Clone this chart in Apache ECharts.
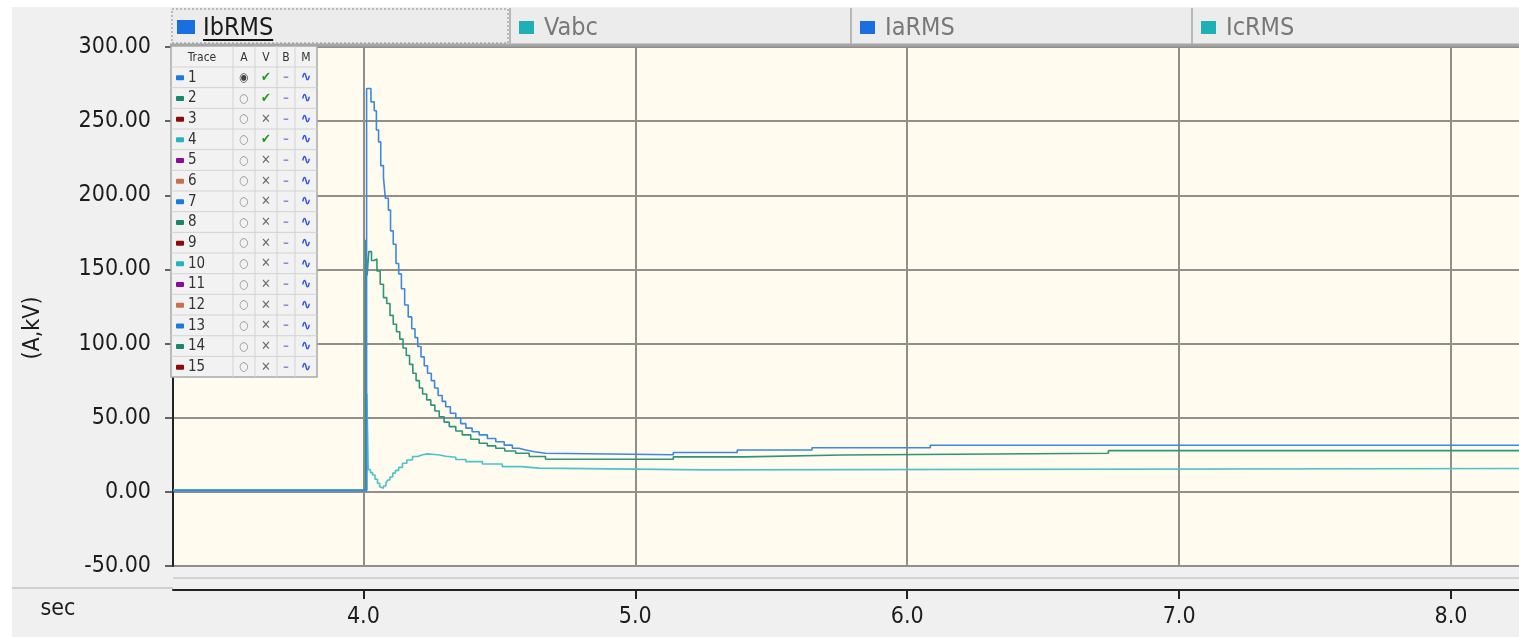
<!DOCTYPE html>
<html>
<head>
<meta charset="utf-8">
<title>RMS traces</title>
<script src="https://cdn.jsdelivr.net/npm/echarts@6/dist/echarts.min.js"></script>
<style>
  html, body { margin: 0; padding: 0; background: #ffffff; }
  #chart { width: 1519px; height: 637px; }
</style>
</head>
<body>
<div id="chart"></div>
<script>
// ---- data -------------------------------------------------------------
const tabNames = ['IbRMS', 'Vabc', 'IaRMS', 'IcRMS'];
const tabColors = ['#1a6fe0', '#1fb0b5', '#1a6fe0', '#1fb0b5'];
const activeTab = 0;

const xTickValues = [4.0, 5.0, 6.0, 7.0, 8.0];
const yMin = -50, yMax = 300, yStep = 50;

const traceIds = [1, 2, 3, 4, 5, 6, 7, 8, 9, 10, 11, 12, 13, 14, 15];
const tracePalette = ['#1a78e0', '#17866b', '#8b0a0a', '#22b5bd', '#8a0a9a', '#c8704e'];
const visibleTraces = [1, 2, 4];
const activeTrace = 1;

// [time (sec), value (A,kV)]
const trace1 = [
  [3.30, 1.0], [4.012, 272], [4.028, 263], [4.040, 257], [4.048, 244], [4.056, 236],
  [4.064, 220], [4.074, 212], [4.081, 198], [4.092, 190], [4.100, 176], [4.110, 167],
  [4.120, 154], [4.130, 147], [4.140, 137], [4.152, 126], [4.165, 118], [4.178, 110],
  [4.190, 104], [4.200, 98], [4.212, 91], [4.224, 85], [4.236, 80], [4.250, 75],
  [4.262, 70], [4.275, 65], [4.290, 61], [4.303, 57.4], [4.320, 53], [4.340, 49.6],
  [4.358, 46], [4.377, 43], [4.400, 40.5], [4.426, 38.4], [4.456, 36], [4.487, 33.8],
  [4.518, 31.5], [4.548, 29.4], [4.572, 28.2], [4.597, 27.1], [4.630, 26], [4.670, 25],
  [5.140, 26.5], [5.375, 28.2], [5.650, 29.7], [6.085, 31.4], [8.25, 31.4]
];
const trace2 = [
  [3.30, 1.0], [4.008, 170], [4.014, 146], [4.020, 162], [4.030, 156], [4.040, 157],
  [4.050, 149], [4.062, 140], [4.074, 131], [4.086, 127], [4.098, 119], [4.110, 113],
  [4.122, 108], [4.134, 103], [4.146, 97], [4.158, 92], [4.170, 86], [4.182, 80],
  [4.194, 75], [4.206, 70], [4.218, 66], [4.233, 62], [4.248, 58.5], [4.263, 54.5],
  [4.279, 50.7], [4.297, 47], [4.316, 44], [4.340, 41], [4.364, 38.4], [4.395, 35.5],
  [4.426, 32.8], [4.456, 31], [4.487, 29.4], [4.520, 27.6], [4.560, 26], [4.610, 23.8],
  [4.670, 22], [5.140, 23.6], [5.405, 24.9], [5.760, 26], [6.740, 27.8], [8.25, 27.8]
];
const trace4 = [
  [3.30, 1.0], [4.013, 66], [4.018, 15], [4.026, 13], [4.034, 11.4], [4.043, 8.5],
  [4.052, 5.8], [4.060, 3.5], [4.066, 2.5], [4.074, 4], [4.083, 5.8], [4.090, 8],
  [4.098, 10], [4.108, 12.6], [4.118, 14.5], [4.130, 16.5], [4.144, 19.3], [4.160, 21.5],
  [4.181, 23.8], [4.200, 25], [4.218, 25.6], [4.236, 25.4], [4.254, 24.9], [4.280, 24],
  [4.303, 23.3], [4.340, 21.8], [4.377, 20.4], [4.438, 18.8], [4.511, 17], [4.580, 16],
  [4.646, 14.8], [5.258, 15.8], [8.25, 15.8]
];

// ---- layout / style ---------------------------------------------------
const FONT = '"DejaVu Sans Condensed", "DejaVu Sans", "Liberation Sans", sans-serif';
const GRID_LEFT = 173, GRID_TOP = 47, GRID_BOTTOM_Y = 566, W = 1519, H = 637;
const gridColor = '#928e8a';
const inkColor = '#1c1c1c';

function textWidth(str, font) {
  const ctx = document.createElement('canvas').getContext('2d');
  ctx.font = font;
  return ctx.measureText(str).width;
}

const chart = echarts.init(document.getElementById('chart'), null, { renderer: 'canvas' });

const graphics = [];

// white page margins around the grey panel
graphics.push({ type: 'rect', z: -5, silent: true, shape: { x: 0, y: 0, width: W, height: 7 }, style: { fill: '#ffffff' } });
graphics.push({ type: 'rect', z: -5, silent: true, shape: { x: 0, y: 0, width: 12, height: H }, style: { fill: '#ffffff' } });

// separators between plot and time axis
graphics.push({ type: 'line', z: 1, silent: true, shape: { x1: GRID_LEFT, y1: 578, x2: W, y2: 578 }, style: { stroke: '#d4d4d4', lineWidth: 2 } });
graphics.push({ type: 'line', z: 1, silent: true, shape: { x1: 12, y1: 588, x2: GRID_LEFT, y2: 588 }, style: { stroke: '#c4c4c4', lineWidth: 1.5 } });

// time axis unit
graphics.push({
  type: 'text', z: 10, silent: true, x: 58, y: 609,
  style: { text: 'sec', font: '23px ' + FONT, fill: inkColor, align: 'center', verticalAlign: 'middle' }
});

// tab strip
const tabX = [170, 511, 852, 1193, W];
graphics.push({ type: 'rect', z: 5, silent: true, shape: { x: 170, y: 8, width: W - 170, height: 36 }, style: { fill: '#ececec' } });
graphics.push({ type: 'line', z: 6, silent: true, shape: { x1: 170, y1: 45, x2: W, y2: 45 }, style: { stroke: '#a6a6a6', lineWidth: 3 } });
const tabFont = '25px ' + FONT;
tabNames.forEach((name, i) => {
  const x0 = tabX[i], x1 = tabX[i + 1];
  if (i < tabNames.length - 1) {
    graphics.push({ type: 'line', z: 6, silent: true, shape: { x1: x1 - 1, y1: 8, x2: x1 - 1, y2: 44 }, style: { stroke: '#b8b8b8', lineWidth: 2 } });
  }
  const active = i === activeTab;
  graphics.push({
    type: 'rect', z: 7, silent: true,
    shape: active ? { x: x0 + 7, y: 20, width: 18, height: 14 } : { x: x0 + 8, y: 21, width: 15, height: 13 },
    style: { fill: tabColors[i] }
  });
  graphics.push({
    type: 'text', z: 7, silent: true, x: x0 + 33, y: 28,
    style: { text: name, font: tabFont, fill: active ? '#1a1a1a' : '#787878', align: 'left', verticalAlign: 'middle' }
  });
  if (active) {
    const tw = textWidth(name, tabFont);
    graphics.push({ type: 'line', z: 7, silent: true, shape: { x1: x0 + 33, y1: 40, x2: x0 + 33 + tw, y2: 40 }, style: { stroke: '#111', lineWidth: 2 } });
    graphics.push({ type: 'rect', z: 7, silent: true, shape: { x: x0 + 2, y: 9, width: x1 - x0 - 5, height: 34 }, style: { fill: 'none', stroke: '#8a8a8a', lineWidth: 1, lineDash: [2, 2] } });
  }
});

// y axis title
graphics.push({
  type: 'text', z: 10, silent: true, x: 33, y: 328, rotation: Math.PI / 2,
  style: { text: '(A,kV)', font: '23px ' + FONT, fill: inkColor, align: 'center', verticalAlign: 'middle' }
});

// trace table
const tblX = 171, tblY = 46, headH = 21, rowH = 20.67;
const colX = [171, 233, 255, 277, 295, 317];
const tblH = headH + rowH * traceIds.length;
graphics.push({ type: 'rect', z: 100, silent: true, shape: { x: tblX, y: tblY, width: colX[5] - tblX, height: tblH }, style: { fill: '#f2f2f2', stroke: '#a9a9a9', lineWidth: 1.5 } });
for (let c = 1; c < colX.length - 1; c++) {
  graphics.push({ type: 'line', z: 101, silent: true, shape: { x1: colX[c], y1: tblY, x2: colX[c], y2: tblY + tblH }, style: { stroke: '#d2d2d2', lineWidth: 1 } });
}
for (let r = 0; r < traceIds.length; r++) {
  const y = tblY + headH + r * rowH;
  graphics.push({ type: 'line', z: 101, silent: true, shape: { x1: tblX, y1: y, x2: colX[5], y2: y }, style: { stroke: '#d2d2d2', lineWidth: 1 } });
}
const headers = ['Trace', 'A', 'V', 'B', 'M'];
headers.forEach((h, c) => {
  graphics.push({
    type: 'text', z: 102, silent: true, x: (colX[c] + colX[c + 1]) / 2, y: tblY + headH / 2 + 1,
    style: { text: h, font: '12px ' + FONT, fill: '#333', align: 'center', verticalAlign: 'middle' }
  });
});
traceIds.forEach((id, r) => {
  const cy = tblY + headH + r * rowH + rowH / 2 + 0.5;
  const color = tracePalette[r % tracePalette.length];
  const shown = visibleTraces.indexOf(id) >= 0;
  graphics.push({ type: 'rect', z: 102, silent: true, shape: { x: 176, y: cy - 2.5, width: 8, height: 5, r: 1 }, style: { fill: color } });
  graphics.push({ type: 'text', z: 102, silent: true, x: 188, y: cy, style: { text: String(id), font: '15px ' + FONT, fill: '#333', align: 'left', verticalAlign: 'middle' } });
  graphics.push({ type: 'text', z: 102, silent: true, x: (colX[1] + colX[2]) / 2, y: cy, style: { text: id === activeTrace ? '◉' : '○', font: '12px ' + FONT, fill: id === activeTrace ? '#444' : '#8a8a8a', align: 'center', verticalAlign: 'middle' } });
  graphics.push({ type: 'text', z: 102, silent: true, x: (colX[2] + colX[3]) / 2, y: cy, style: { text: shown ? '✔' : '✕', font: (shown ? 'bold 13px ' : '13px ') + FONT, fill: shown ? '#1f9a1f' : '#6e6e6e', align: 'center', verticalAlign: 'middle' } });
  graphics.push({ type: 'text', z: 102, silent: true, x: (colX[3] + colX[4]) / 2, y: cy, style: { text: '–', font: 'bold 13px ' + FONT, fill: '#8c8cd6', align: 'center', verticalAlign: 'middle' } });
  graphics.push({ type: 'text', z: 102, silent: true, x: (colX[4] + colX[5]) / 2, y: cy, style: { text: '∿', font: 'bold 14px ' + FONT, fill: '#3050e8', align: 'center', verticalAlign: 'middle' } });
});

function lineSeries(name, data, color) {
  return {
    name: name,
    type: 'line',
    data: data,
    step: 'end',
    showSymbol: false,
    symbol: 'none',
    animation: false,
    clip: true,
    lineStyle: { color: color, width: 1.6 },
    emphasis: { disabled: true }
  };
}

const option = {
  backgroundColor: '#f0f0f0',
  animation: false,
  textStyle: { fontFamily: FONT },
  grid: {
    left: GRID_LEFT, right: -4, top: GRID_TOP, bottom: H - GRID_BOTTOM_Y,
    show: true, backgroundColor: '#fffbef', borderWidth: 0
  },
  xAxis: {
    type: 'value',
    min: 3.30, max: 8.25,
    splitNumber: 5,
    offset: 24,
    axisLine: { show: true, onZero: false, lineStyle: { color: '#222', width: 2 } },
    axisTick: { show: true, length: 9, customValues: xTickValues, lineStyle: { color: '#222', width: 2 } },
    axisLabel: {
      customValues: xTickValues,
      margin: 16, fontSize: 23, color: inkColor, fontFamily: FONT,
      formatter: v => v.toFixed(1)
    },
    splitLine: { show: true, lineStyle: { color: gridColor, width: 2 } }
  },
  yAxis: {
    type: 'value',
    min: yMin, max: yMax, interval: yStep,
    axisLine: { show: true, onZero: false, lineStyle: { color: '#222', width: 2 } },
    axisTick: { show: true, length: 8, lineStyle: { color: '#333', width: 1.5 } },
    axisLabel: { margin: 22, fontSize: 23, color: inkColor, fontFamily: FONT, formatter: v => v.toFixed(2) },
    splitLine: { show: true, lineStyle: { color: gridColor, width: 2 } }
  },
  series: [
    lineSeries('4', trace4, '#4cc3c6'),
    lineSeries('2', trace2, '#2e957a'),
    lineSeries('1', trace1, '#3d88e0')
  ],
  graphic: { elements: graphics }
};

chart.setOption(option);
</script>
</body>
</html>
